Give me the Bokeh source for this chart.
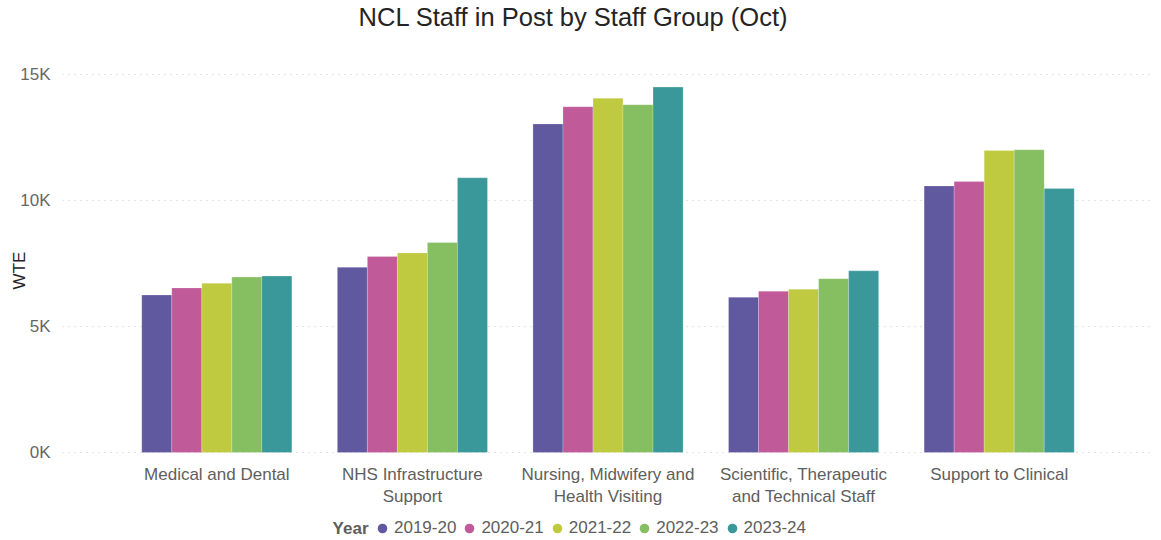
from bokeh.plotting import figure
from bokeh.models import (ColumnDataSource, FactorRange, Range1d, FixedTicker, Legend,
                          LegendItem, Label)
from bokeh.core.properties import value
from bokeh.transform import dodge
from bokeh.embed import file_html
from bokeh.resources import INLINE

# ---- data ----
categories = [
    "Medical and Dental",
    "NHS Infrastructure\nSupport",
    "Nursing, Midwifery and\nHealth Visiting",
    "Scientific, Therapeutic\nand Technical Staff",
    "Support to Clinical",
]
years = ["2019-20", "2020-21", "2021-22", "2022-23", "2023-24"]
wte_2019_20 = [6250, 7350, 13040, 6160, 10580]
wte_2020_21 = [6530, 7780, 13720, 6400, 10750]
wte_2021_22 = [6720, 7920, 14060, 6480, 11980]
wte_2022_23 = [6960, 8330, 13800, 6900, 12010]
wte_2023_24 = [7000, 10900, 14500, 7210, 10480]
y_ticks = [0, 5000, 10000, 15000]
y_tick_labels = ["0K", "5K", "10K", "15K"]
colors = ["#6159A0", "#C05A98", "#C0CA40", "#86BE62", "#3A989A"]

series = [wte_2019_20, wte_2020_21, wte_2021_22, wte_2022_23, wte_2023_24]
src = ColumnDataSource(dict(cat=categories, **{y: s for y, s in zip(years, series)}))

FONT = "Liberation Sans"
GREY = "#605E5C"

# the frame fills the canvas height; the title sits in the band above the
# top tick, category labels and legend in the band below 0
p = figure(
    x_range=FactorRange(factors=categories, range_padding=0.1156),
    y_range=Range1d(-3492, 17937),
    width=1161, height=540,
    output_backend="svg", toolbar_location=None,
    x_axis_location=None,
    min_border_top=0, min_border_bottom=0, min_border_right=8, min_border_left=62,
)

bar_w = 0.1535
for i, (yr, col) in enumerate(zip(years, colors)):
    p.vbar(x=dodge("cat", (i - 2) * bar_w, range=p.x_range), top=yr, width=bar_w,
           source=src, fill_color=col, line_color="white", line_alpha=0.35, line_width=0.6)

# category labels under the baseline
p.text(x="cat", y=0, text="cat", source=src, y_offset=12,
       text_align="center", text_baseline="top", text_font=value(FONT),
       text_font_size="17px", text_color=GREY, text_line_height=1.18)

# title
title_lbl = Label(x=511, y=524, x_units="screen", y_units="screen",
                  text="NCL Staff in Post by Staff Group (Oct)",
                  text_align="center", text_baseline="alphabetic", text_font=FONT,
                  text_font_size="25.5px", text_color="#252423")
p.add_layout(title_lbl)

# legend with circle markers (zero-size markers: only their legend glyph shows)
items = []
for yr, col in zip(years, colors):
    r = p.scatter(x="cat", y=yr, source=src, marker="circle", size=0,
                  fill_color=col, line_color=None)
    items.append(LegendItem(label=yr, renderers=[r]))

legend = Legend(items=items, orientation="horizontal", location=(308, 0),
                glyph_width=24, glyph_height=24, label_standoff=0,
                spacing=1, padding=0, margin=0, border_line_color=None,
                background_fill_alpha=0,
                label_text_font=FONT, label_text_font_size="17px", label_text_color=GREY)
p.add_layout(legend)

year_lbl = Label(x=306, y=12, x_units="screen", y_units="screen", text="Year",
                 text_align="right", text_baseline="middle", text_font=FONT,
                 text_font_size="17px", text_font_style="bold", text_color=GREY)
p.add_layout(year_lbl)

# y axis
p.yaxis.ticker = FixedTicker(ticks=y_ticks)
p.yaxis.major_label_overrides = dict(zip(y_ticks, y_tick_labels))
p.yaxis.axis_line_color = None
p.yaxis.major_tick_line_color = None
p.yaxis.minor_tick_line_color = None
p.yaxis.major_label_standoff = 6
p.yaxis.major_label_text_font = FONT
p.yaxis.major_label_text_font_size = "17px"
p.yaxis.major_label_text_color = "#666666"
p.yaxis.axis_label = "WTE"
p.yaxis.axis_label_standoff = -12
p.yaxis.axis_label_text_font = FONT
p.yaxis.axis_label_text_font_size = "17px"
p.yaxis.axis_label_text_font_style = "normal"
p.yaxis.axis_label_text_color = "#252423"

p.xgrid.grid_line_color = None
p.ygrid.grid_line_color = "#C8C6C4"
p.ygrid.grid_line_dash = "1 5"
p.ygrid.grid_line_width = 1
p.outline_line_color = None

open("out.html", "w").write(file_html(p, INLINE))
